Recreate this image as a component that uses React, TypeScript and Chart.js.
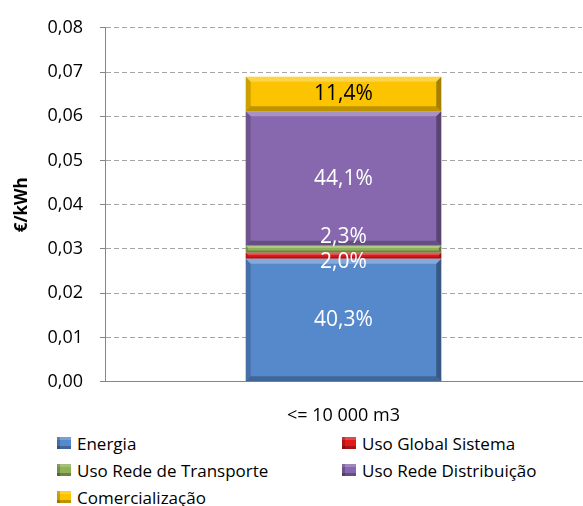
import React, { useEffect, useRef } from "react";
import { Chart, registerables } from "chart.js";

Chart.register(...registerables);

const categories = ["<= 10 000 m3"];
const seriesNames = [
  "Energia",
  "Uso Global Sistema",
  "Uso Rede de Transporte",
  "Uso Rede Distribuição",
  "Comercialização",
];
const energia = [0.02777];
const usoGlobalSistema = [0.00138];
const usoRedeTransporte = [0.00158];
const usoRedeDistribuicao = [0.03038];
const comercializacao = [0.00785];
const percentLabels = ["40,3%", "2,0%", "2,3%", "44,1%", "11,4%"];
const yMin = 0;
const yMax = 0.08;
const yStep = 0.01;

const colors = ["#5689cc", "#e0191b", "#8fb158", "#8768ae", "#fcc400"];
const labelColors = ["#ffffff", "#ffffff", "#ffffff", "#ffffff", "#000000"];
const labelOffsets = [0, 6, -12, 0, 0];

const FONT = "'Open Sans', 'Noto Sans', sans-serif";

const labelPlugin = {
  id: "segLabels",
  afterDatasetsDraw(chart: any) {
    const ctx = chart.ctx;
    ctx.save();
    ctx.font = `21px ${FONT}`;
    ctx.textAlign = "center";
    ctx.textBaseline = "middle";
    chart.data.datasets.forEach((ds: any, i: number) => {
      const meta = chart.getDatasetMeta(i);
      meta.data.forEach((bar: any) => {
        const cy = (bar.y + bar.base) / 2 + labelOffsets[i];
        ctx.fillStyle = labelColors[i];
        ctx.fillText(percentLabels[i], bar.x, cy);
      });
    });
    ctx.restore();
  },
};

const bevelPlugin = {
  id: "bevel",
  afterDatasetDraw(chart: any, args: any) {
    const ctx = chart.ctx;
    const meta = args.meta;
    meta.data.forEach((bar: any) => {
      const left = bar.x - bar.width / 2;
      const right = bar.x + bar.width / 2;
      const top = Math.min(bar.y, bar.base);
      const bottom = Math.max(bar.y, bar.base);
      const h = bottom - top;
      const b = Math.min(5, h / 3);
      ctx.save();
      ctx.fillStyle = "rgba(255,255,255,0.28)";
      ctx.beginPath();
      ctx.moveTo(left, top);
      ctx.lineTo(right, top);
      ctx.lineTo(right - b, top + b);
      ctx.lineTo(left + b, top + b);
      ctx.closePath();
      ctx.fill();
      ctx.fillStyle = "rgba(0,0,0,0.18)";
      ctx.beginPath();
      ctx.moveTo(left, top);
      ctx.lineTo(left + b, top + b);
      ctx.lineTo(left + b, bottom - b);
      ctx.lineTo(left, bottom);
      ctx.closePath();
      ctx.fill();
      ctx.fillStyle = "rgba(0,0,0,0.25)";
      ctx.beginPath();
      ctx.moveTo(left, bottom);
      ctx.lineTo(right, bottom);
      ctx.lineTo(right - b, bottom - b);
      ctx.lineTo(left + b, bottom - b);
      ctx.closePath();
      ctx.fill();
      ctx.fillStyle = "rgba(0,0,0,0.35)";
      ctx.beginPath();
      ctx.moveTo(right, top);
      ctx.lineTo(right, bottom);
      ctx.lineTo(right - b, bottom - b);
      ctx.lineTo(right - b, top + b);
      ctx.closePath();
      ctx.fill();
      ctx.restore();
    });
  },
};

export default function App() {
  const ref = useRef<HTMLCanvasElement>(null);

  useEffect(() => {
    if (!ref.current) return;
    const series = [
      energia,
      usoGlobalSistema,
      usoRedeTransporte,
      usoRedeDistribuicao,
      comercializacao,
    ];
    const chart = new Chart(ref.current, {
      type: "bar",
      data: {
        labels: categories,
        datasets: series.map((d, i) => ({
          label: seriesNames[i],
          data: d,
          backgroundColor: colors[i],
          borderWidth: 0,
          barPercentage: 0.41,
          categoryPercentage: 1,
        })),
      },
      options: {
        animation: false,
        responsive: false,
        maintainAspectRatio: false,
        layout: { padding: { left: 0, right: 1, top: 21.7, bottom: 0 } },
        plugins: {
          legend: { display: false },
          tooltip: { enabled: false },
        },
        scales: {
          x: {
            stacked: true,
            grid: { display: false, drawTicks: false },
            border: { display: true, color: "#868686", width: 1 },
            ticks: {
              color: "#000",
              font: { family: FONT, size: 18 },
              padding: 23,
            },
            afterFit(scale: any) {
              scale.height = 48.3;
            },
          },
          y: {
            stacked: true,
            min: yMin,
            max: yMax,
            ticks: {
              stepSize: yStep,
              color: "#000",
              font: { family: FONT, size: 18 },
              padding: 17,
              callback: (v: any) => Number(v).toFixed(2).replace(".", ","),
            },
            grid: {
              color: "#a6a6a6",
              lineWidth: 1,
              tickLength: 5,
              tickColor: "#868686",
            },
            border: { display: true, color: "#868686", width: 1, dash: [5, 3] },
            title: {
              display: true,
              text: "€/kWh",
              color: "#000",
              font: { family: FONT, size: 17, weight: "bold" },
              padding: { top: 12, bottom: 0 },
            },
            afterFit(scale: any) {
              scale.width = 105;
            },
          },
        },
      },
      plugins: [bevelPlugin, labelPlugin],
    });
    return () => chart.destroy();
  }, []);

  const legendItems = seriesNames.map((n, i) => ({ name: n, color: colors[i] }));
  const positions = [
    { left: 57, top: 443 },
    { left: 342, top: 443 },
    { left: 57, top: 470 },
    { left: 342, top: 470 },
    { left: 57, top: 497 },
  ];

  return (
    <div
      style={{
        position: "fixed",
        left: 0,
        top: 0,
        width: 583,
        height: 506,
        background: "#fff",
        fontFamily: FONT,
        overflow: "hidden",
      }}
    >
      <canvas
        ref={ref}
        width={583}
        height={430}
        style={{ position: "absolute", left: 0, top: 0, width: 583, height: 430 }}
      />
      {legendItems.map((it, i) => (
        <div
          key={it.name}
          style={{
            position: "absolute",
            left: positions[i].left,
            top: positions[i].top - 12,
            height: 24,
            display: "flex",
            alignItems: "center",
            fontSize: 17,
            color: "#000",
            whiteSpace: "nowrap",
          }}
        >
          <span
            style={{
              display: "inline-block",
              width: 14,
              height: 12,
              marginRight: 6,
              background: it.color,
              boxShadow:
                "inset 3px 0 0 rgba(0,0,0,0.2), inset 0 -3px 0 rgba(0,0,0,0.25), inset 0 3px 0 rgba(255,255,255,0.2)",
            }}
          />
          {it.name}
        </div>
      ))}
    </div>
  );
}
